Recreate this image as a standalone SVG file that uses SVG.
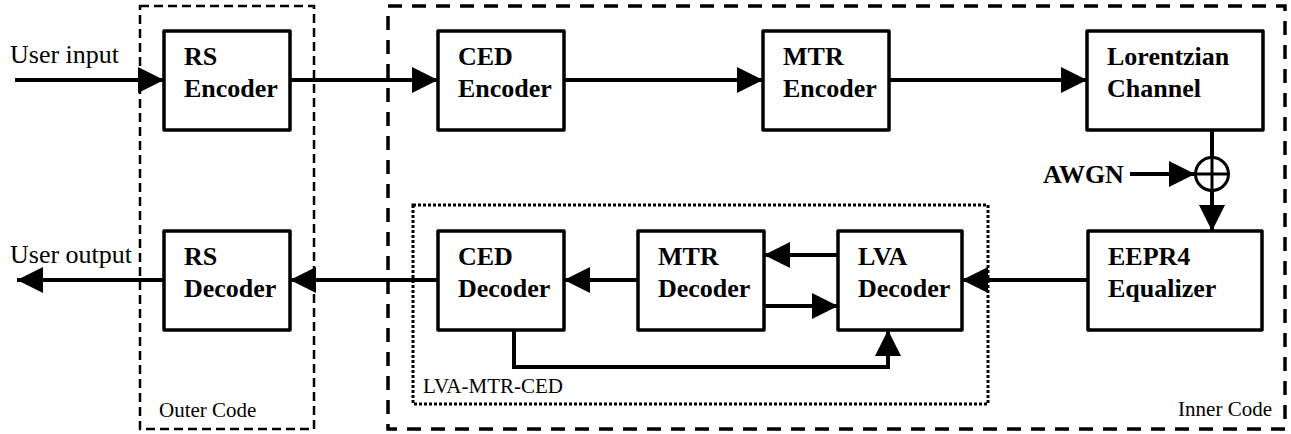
<svg xmlns="http://www.w3.org/2000/svg" width="1291" height="434" viewBox="0 0 1291 434" font-family="'Liberation Serif', 'Times New Roman', Times, 'DejaVu Serif', serif">
  <style>
    .box { fill: #ffffff; stroke: #000000; stroke-width: 3.5; stroke-linejoin: round; }
    .lbl { font-weight: bold; font-size: 26px; fill: #000000; }
    .txt { font-size: 26px; fill: #000000; }
    .small { font-size: 21px; fill: #000000; }
    .wire { fill: none; stroke: #000000; stroke-width: 4; }
    .arr { marker-end: url(#head); }
    .outer { fill: none; stroke: #000000; stroke-width: 2.5; stroke-dasharray: 9 5; }
    .inner { fill: none; stroke: #000000; stroke-width: 3.5; stroke-dasharray: 14 10; }
    .dotted { fill: none; stroke: #000000; stroke-width: 3; stroke-dasharray: 3 2; }
  </style>
  <defs>
    <marker id="head" markerUnits="userSpaceOnUse" markerWidth="27" markerHeight="26" refX="26" refY="13" orient="auto" overflow="visible">
      <path d="M0,0 L26,13 L0,26 Z" fill="#000000"/>
    </marker>
  </defs>
  <rect width="1291" height="434" fill="#ffffff"/>

  <!-- grouping frames -->
  <g id="outer-code">
    <rect class="outer" x="140" y="6" width="174" height="423"/>
    <text class="small" x="159" y="417">Outer Code</text>
  </g>
  <g id="inner-code">
    <rect class="inner" x="388" y="6" width="897" height="423"/>
    <text class="small" x="1272" y="416" text-anchor="end">Inner Code</text>
  </g>
  <g id="lva-mtr-ced">
    <rect class="dotted" x="413" y="205" width="575" height="199"/>
    <text class="small" x="423" y="393">LVA-MTR-CED</text>
  </g>

  <!-- connectors -->
  <g id="connectors">
    <line class="wire arr" x1="15" y1="80" x2="164" y2="80"/>
    <line class="wire arr" x1="290" y1="80" x2="438" y2="80"/>
    <line class="wire arr" x1="564" y1="80" x2="763" y2="80"/>
    <line class="wire arr" x1="889" y1="80" x2="1087" y2="80"/>
    <line class="wire" x1="1212" y1="130" x2="1212" y2="157"/>
    <line class="wire arr" x1="1130" y1="174" x2="1195" y2="174"/>
    <line class="wire arr" x1="1212" y1="191" x2="1212" y2="231"/>
    <line class="wire arr" x1="1088" y1="280" x2="962" y2="280"/>
    <line class="wire arr" x1="838" y1="255" x2="764" y2="255"/>
    <line class="wire arr" x1="764" y1="306" x2="838" y2="306"/>
    <line class="wire arr" x1="638" y1="280" x2="564" y2="280"/>
    <line class="wire arr" x1="438" y1="280" x2="290" y2="280"/>
    <line class="wire arr" x1="164" y1="280" x2="17" y2="280"/>
    <polyline class="wire arr" points="514,330 514,367 888,367 888,330"/>
    <text class="txt" x="10" y="63">User input</text>
    <text class="txt" x="10" y="263">User output</text>
  </g>

  <!-- noise adder -->
  <g id="awgn">
    <text class="lbl" x="1043" y="183">AWGN</text>
    <circle cx="1212" cy="174" r="16.5" fill="#ffffff" stroke="#000000" stroke-width="3"/>
    <line x1="1195.5" y1="174" x2="1228.5" y2="174" stroke="#000000" stroke-width="3"/>
    <line x1="1212" y1="157.5" x2="1212" y2="190.5" stroke="#000000" stroke-width="3"/>
  </g>

  <!-- blocks -->
  <g id="rs-encoder">
    <rect class="box" x="164" y="31" width="126" height="99"/>
    <text class="lbl" x="184" y="65">RS</text>
    <text class="lbl" x="184" y="97">Encoder</text>
  </g>
  <g id="ced-encoder">
    <rect class="box" x="438" y="31" width="126" height="99"/>
    <text class="lbl" x="458" y="65">CED</text>
    <text class="lbl" x="458" y="97">Encoder</text>
  </g>
  <g id="mtr-encoder">
    <rect class="box" x="763" y="31" width="126" height="99"/>
    <text class="lbl" x="783" y="65">MTR</text>
    <text class="lbl" x="783" y="97">Encoder</text>
  </g>
  <g id="lorentzian-channel">
    <rect class="box" x="1087" y="31" width="176" height="99"/>
    <text class="lbl" x="1107" y="65">Lorentzian</text>
    <text class="lbl" x="1107" y="97">Channel</text>
  </g>
  <g id="eepr4-equalizer">
    <rect class="box" x="1088" y="231" width="174" height="99"/>
    <text class="lbl" x="1108" y="265">EEPR4</text>
    <text class="lbl" x="1108" y="297">Equalizer</text>
  </g>
  <g id="lva-decoder">
    <rect class="box" x="838" y="231" width="124" height="99"/>
    <text class="lbl" x="858" y="265">LVA</text>
    <text class="lbl" x="858" y="297">Decoder</text>
  </g>
  <g id="mtr-decoder">
    <rect class="box" x="638" y="231" width="126" height="99"/>
    <text class="lbl" x="658" y="265">MTR</text>
    <text class="lbl" x="658" y="297">Decoder</text>
  </g>
  <g id="ced-decoder">
    <rect class="box" x="438" y="231" width="126" height="99"/>
    <text class="lbl" x="458" y="265">CED</text>
    <text class="lbl" x="458" y="297">Decoder</text>
  </g>
  <g id="rs-decoder">
    <rect class="box" x="164" y="231" width="126" height="99"/>
    <text class="lbl" x="184" y="265">RS</text>
    <text class="lbl" x="184" y="297">Decoder</text>
  </g>
</svg>
